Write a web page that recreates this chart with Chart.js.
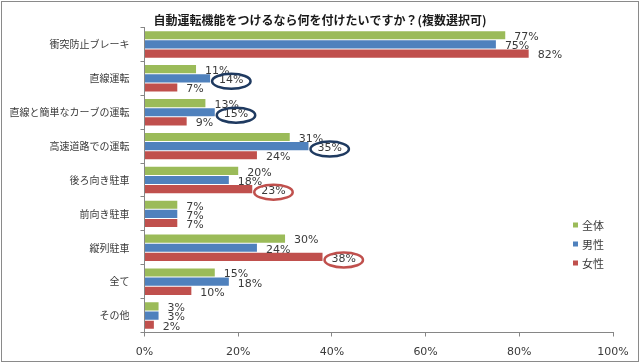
<!DOCTYPE html>
<html>
<head>
<meta charset="utf-8">
<script src="https://cdn.jsdelivr.net/npm/chart.js@4.4.1/dist/chart.umd.min.js"></script>
<style>
  html, body { margin: 0; padding: 0; background: #fff; }
  #wrap { width: 640px; height: 363px; position: relative; }
</style>
</head>
<body>
<div id="wrap"><canvas id="c" width="640" height="363"></canvas></div>
<script>
const titleText = '自動運転機能をつけるなら何を付けたいですか？(複数選択可)';
const categories = ['衝突防止ブレーキ', '直線運転', '直線と簡単なカーブの運転', '高速道路での運転', '後ろ向き駐車', '前向き駐車', '縦列駐車', '全て', 'その他'];
const seriesNames = ['全体', '男性', '女性'];
const totalValues  = [77, 11, 13, 31, 20, 7, 30, 15, 3];
const maleValues   = [75, 14, 15, 35, 18, 7, 24, 18, 3];
const femaleValues = [82, 7, 9, 24, 23, 7, 38, 10, 2];
const xTickValues = [0, 20, 40, 60, 80, 100];
const circledTotal = [];
const circledMale = [1, 2, 3];
const circledFemale = [4, 6];

const colors = ['#9BBB59', '#4F81BD', '#C0504D'];
const circleColors = [null, '#1F3A60', '#C0504D'];
const cjk = '"Noto Sans CJK JP", "Noto Sans", sans-serif';
const num = '"DejaVu Sans", Verdana, sans-serif';

const borderPlugin = {
  id: 'outerBorder',
  afterDraw(chart) {
    const ctx = chart.ctx;
    ctx.save();
    ctx.strokeStyle = '#8a8a8a';
    ctx.lineWidth = 1;
    ctx.strokeRect(1.5, 1.5, chart.width - 3, chart.height - 3);
    ctx.restore();
  }
};

const titlePlugin = {
  id: 'centeredTitle',
  afterDraw(chart) {
    const ctx = chart.ctx;
    ctx.save();
    ctx.font = 'bold 12px ' + cjk;
    ctx.fillStyle = '#1a1a1a';
    ctx.textAlign = 'center';
    ctx.textBaseline = 'middle';
    ctx.fillText(titleText, chart.width / 2, 20);
    ctx.restore();
  }
};

const labelPlugin = {
  id: 'barLabels',
  afterDatasetsDraw(chart) {
    const ctx = chart.ctx;
    ctx.save();
    ctx.font = '11px ' + num;
    ctx.textBaseline = 'middle';
    ctx.textAlign = 'left';
    chart.data.datasets.forEach((ds, di) => {
      const meta = chart.getDatasetMeta(di);
      meta.data.forEach((bar, i) => {
        const txt = ds.data[i] + '%';
        const x = bar.x + 9;
        const y = bar.y + 2;
        ctx.fillStyle = '#3a3a3a';
        ctx.fillText(txt, x, y);
        if (ds.circled && ds.circled.includes(i)) {
          const w = ctx.measureText(txt).width;
          ctx.beginPath();
          ctx.ellipse(x + w / 2, y + 1, w / 2 + 7, 7.5, 0, 0, Math.PI * 2);
          ctx.strokeStyle = ds.circleColor;
          ctx.lineWidth = 2.5;
          ctx.stroke();
        }
      });
    });
    ctx.restore();
  }
};

const legendPlugin = {
  id: 'innerLegend',
  afterDraw(chart) {
    const ctx = chart.ctx;
    const area = chart.chartArea;
    ctx.save();
    ctx.font = '11px ' + cjk;
    ctx.textBaseline = 'middle';
    ctx.textAlign = 'left';
    chart.data.datasets.forEach((ds, di) => {
      const x = area.right - 40;
      const y = area.top + 198 + di * 19;
      ctx.fillStyle = ds.backgroundColor;
      ctx.fillRect(x, y - 3, 5, 5);
      ctx.fillStyle = '#3a3a3a';
      ctx.fillText(ds.label, x + 9, y);
    });
    ctx.restore();
  }
};

const datasets = [totalValues, maleValues, femaleValues].map((vals, i) => ({
  label: seriesNames[i],
  data: vals,
  backgroundColor: colors[i],
  borderWidth: 0,
  categoryPercentage: 0.81,
  barPercentage: 0.89,
  circled: [circledTotal, circledMale, circledFemale][i],
  circleColor: circleColors[i]
}));

new Chart(document.getElementById('c'), {
  type: 'bar',
  data: { labels: categories, datasets },
  options: {
    indexAxis: 'y',
    responsive: false,
    animation: false,
    layout: { padding: { left: 0, right: 27, top: 27.5, bottom: 0 } },
    plugins: {
      legend: { display: false },
      tooltip: { enabled: false },
      title: { display: false }
    },
    scales: {
      x: {
        min: 0,
        max: 100,
        afterBuildTicks(scale) { scale.ticks = xTickValues.map(v => ({ value: v })); },
        afterFit(scale) { scale.height = 30.5; },
        ticks: {
          callback: v => v + '%',
          color: '#3a3a3a',
          font: { family: num, size: 11 },
          padding: 9,
          maxRotation: 0
        },
        grid: { drawOnChartArea: false, tickLength: 4, color: '#868686' },
        border: { color: '#868686' }
      },
      y: {
        afterFit(scale) { scale.width = 144.5; },
        ticks: {
          color: '#3a3a3a',
          font: { family: cjk, size: 10 },
          padding: 11
        },
        grid: { drawOnChartArea: false, offset: true, tickLength: 4, color: '#868686' },
        border: { color: '#868686' }
      }
    }
  },
  plugins: [borderPlugin, titlePlugin, labelPlugin, legendPlugin]
});
</script>
</body>
</html>
